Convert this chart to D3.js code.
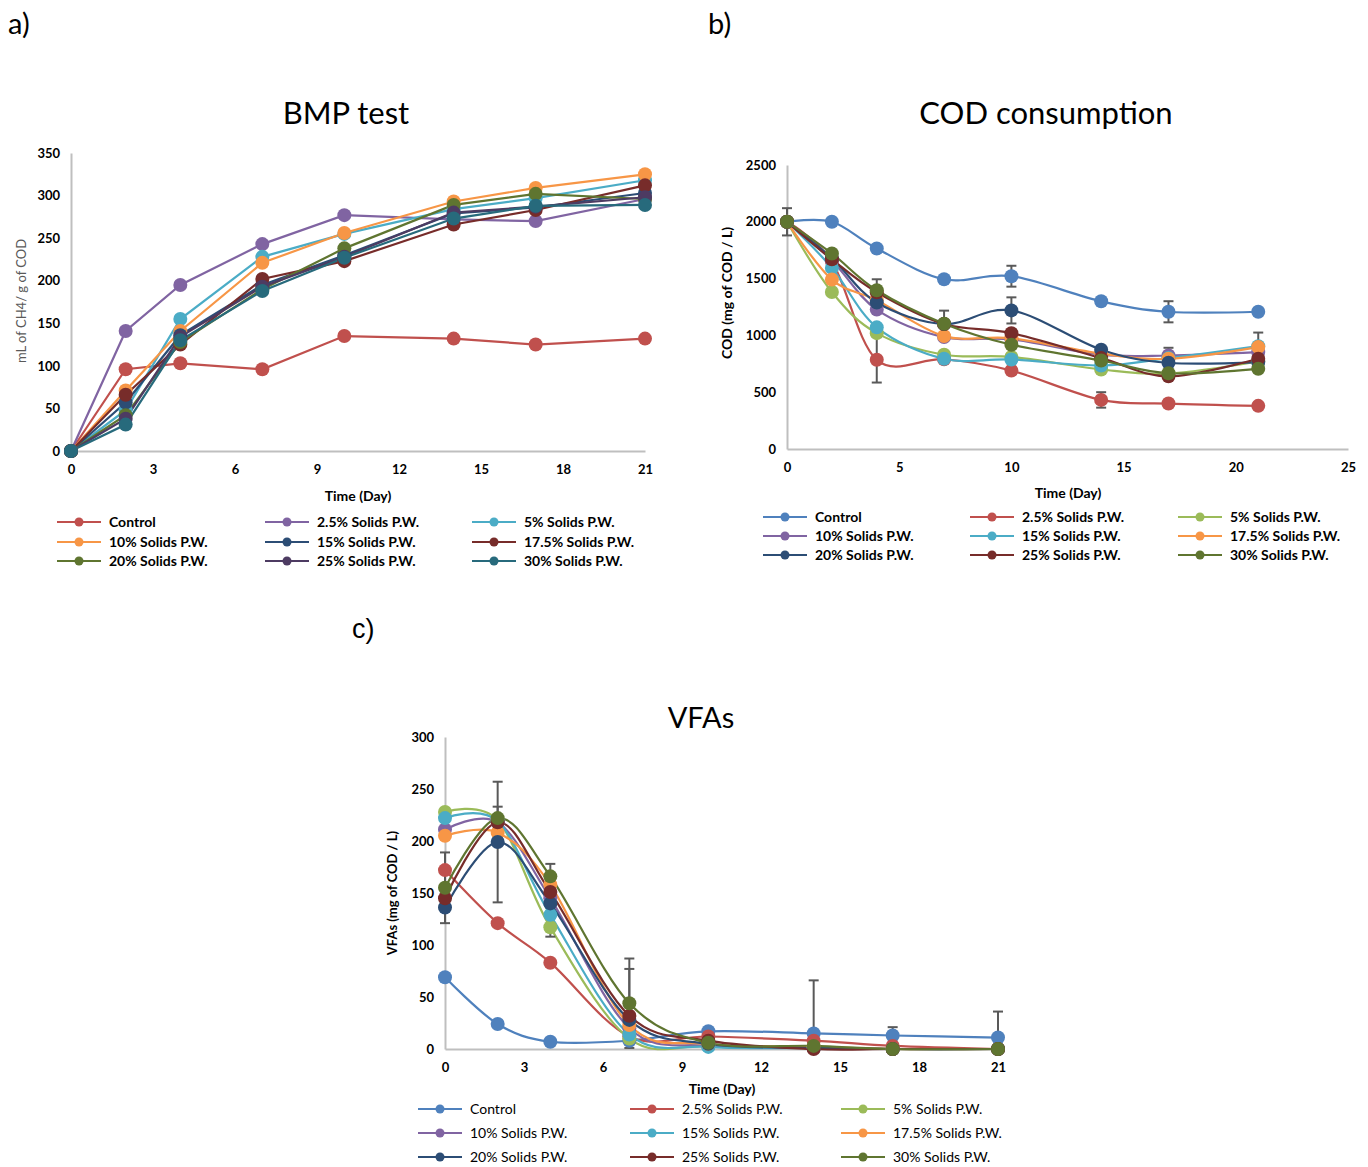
<!DOCTYPE html>
<html><head><meta charset="utf-8">
<script src="https://cdn.jsdelivr.net/npm/d3@7"></script>
<style>body{margin:0;background:#fff}svg{display:block}</style>
</head><body>
<svg id="c" width="1368" height="1167"></svg>
<script>
const days = [0, 2, 4, 7, 10, 14, 17, 21];
const seriesNames = ["Control","2.5% Solids P.W.","5% Solids P.W.","10% Solids P.W.","15% Solids P.W.","17.5% Solids P.W.","20% Solids P.W.","25% Solids P.W.","30% Solids P.W."];

// a) BMP test
const bmpColors = ["#c0504d","#8064a2","#4bacc6","#f79646","#2c4d75","#772c2a","#5f7530","#4d3b62","#276a7c"];
const bmpValues = [
  [0, 96, 103, 96, 135, 132, 125, 132],
  [0, 141, 195, 243, 277, 272, 270, 296],
  [0, 48, 155, 228, 255, 284, 297, 318],
  [0, 71, 141, 221, 256, 293, 309, 325],
  [0, 57, 136, 195, 230, 279, 286, 303],
  [0, 66, 125, 202, 223, 266, 283, 312],
  [0, 42, 128, 190, 238, 289, 302, 296],
  [0, 38, 134, 193, 228, 280, 287, 298],
  [0, 31, 130, 188, 227, 273, 288, 289]
];
const bmpYTicks = [0, 50, 100, 150, 200, 250, 300, 350];
const bmpXTicks = [0, 3, 6, 9, 12, 15, 18, 21];

// b) COD consumption
const codColors = ["#4f81bd","#c0504d","#9bbb59","#8064a2","#4bacc6","#f79646","#2c4d75","#772c2a","#5f7530"];
const codValues = [
  [2000, 2000, 1765, 1494, 1521, 1300, 1208, 1208],
  [2000, 1650, 785, 790, 690, 432, 400, 380],
  [2000, 1382, 1020, 830, 810, 700, 664, 770],
  [2000, 1660, 1227, 985, 965, 830, 823, 853],
  [2000, 1594, 1071, 794, 788, 735, 800, 905],
  [2000, 1491, 1310, 994, 975, 840, 794, 897],
  [2000, 1680, 1289, 1100, 1220, 874, 759, 765],
  [2000, 1670, 1380, 1100, 1020, 800, 640, 794],
  [2000, 1721, 1397, 1103, 918, 779, 667, 706]
];
const codYTicks = [0, 500, 1000, 1500, 2000, 2500];
const codXTicks = [0, 5, 10, 15, 20, 25];
// error bars: [series, day index, error]
const codErrors = [[0,0,120],[1,2,200],[8,2,97],[8,3,115],[0,4,92],[6,4,115],[1,5,68],[0,6,93],[3,6,68],[5,7,128]];

// c) VFAs
const vfaColors = codColors;
const vfaValues = [
  [69, 24, 7, 8, 17, 15, 13, 11],
  [172, 121, 83, 12, 12, 8, 3, 0],
  [228, 220, 117, 10, 3, 2, 0, 0],
  [211, 218, 145, 20, 3, 1, 0, 0],
  [222, 219, 129, 14, 2, 1, 0, 0],
  [205, 208, 158, 23, 5, 2, 0, 0],
  [136, 199, 140, 28, 5, 1, 0, 0],
  [145, 218, 151, 32, 8, 0, 0, 0],
  [155, 222, 166, 44, 6, 3, 0, 0]
];
const vfaYTicks = [0, 50, 100, 150, 200, 250, 300];
const vfaXTicks = [0, 3, 6, 9, 12, 15, 18, 21];
const vfaErrors = [[8,0,34],[6,1,58],[8,1,11],[8,2,12],[2,2,9],[8,3,43],[7,3,45],[0,5,51],[0,6,8],[0,7,25]];

const svg = d3.select("#c");
const FONT = "Lato, 'Open Sans', sans-serif";

function panel(o) {
  const g = svg.append("g");
  const x = d3.scaleLinear().domain(o.xDomain).range([o.x0, o.x1]);
  const y = d3.scaleLinear().domain(o.yDomain).range([o.y0, o.y1]);
  g.append("text").attr("x", o.titleX).attr("y", o.titleY).attr("text-anchor","middle")
    .attr("font-family", FONT).attr("font-size", o.titleSize).attr("fill","#000").text(o.title);
  const ya = g.append("g").attr("transform", `translate(${o.x0},0)`)
    .call(d3.axisLeft(y).tickValues(o.yTicks).tickSize(0).tickPadding(11).tickFormat(d3.format("d")));
  const xa = g.append("g").attr("transform", `translate(0,${o.y0})`)
    .call(d3.axisBottom(x).tickValues(o.xTicks).tickSize(0).tickPadding(14).tickFormat(d3.format("d")));
  [ya, xa].forEach(a => {
    a.select(".domain").attr("stroke","#bfbfbf").attr("stroke-width",2);
    a.selectAll("text").attr("font-family", FONT).attr("font-weight","bold").attr("font-size",13).attr("fill","#000");
  });
  g.append("text").attr("x", o.xLabelX).attr("y", o.xLabelY).attr("text-anchor","middle")
    .attr("font-family", FONT).attr("font-weight","bold").attr("font-size",14).text("Time (Day)");
  g.append("text").attr("transform", `translate(${o.yLabelX},${o.yLabelY}) rotate(-90)`).attr("text-anchor","middle")
    .attr("font-family", FONT).attr("font-weight", o.yLabelBold ? "bold" : "normal").attr("font-size", o.yLabelSize)
    .attr("fill", o.yLabelColor).text(o.yLabel);
  const line = d3.line().x((d,i) => x(days[i])).y(d => y(d)).curve(o.curve);
  o.values.forEach((vals, si) => {
    g.append("path").datum(vals).attr("d", line).attr("fill","none")
      .attr("stroke", o.colors[si]).attr("stroke-width", 2.2);
  });
  (o.errors || []).forEach(([si, di, e]) => {
    const cx = x(days[di]), v = o.values[si][di];
    const eg = g.append("g").attr("stroke","#595959").attr("stroke-width",2);
    const lo = Math.max(o.yDomain[0], v - e);
    eg.append("line").attr("x1",cx).attr("x2",cx).attr("y1",y(lo)).attr("y2",y(v+e));
    eg.append("line").attr("x1",cx-5).attr("x2",cx+5).attr("y1",y(v+e)).attr("y2",y(v+e));
    if (v - e >= o.yDomain[0]) eg.append("line").attr("x1",cx-5).attr("x2",cx+5).attr("y1",y(lo)).attr("y2",y(lo));
  });
  o.values.forEach((vals, si) => {
    g.append("g").selectAll("circle").data(vals).join("circle")
      .attr("cx",(d,i)=>x(days[i])).attr("cy",d=>y(d)).attr("r",7).attr("fill",o.colors[si]);
  });
  seriesNames.forEach((name, si) => {
    const col = si % 3, row = Math.floor(si / 3);
    const lx = o.legX[col], ly = o.legY[row];
    g.append("line").attr("x1",lx).attr("x2",lx+44).attr("y1",ly).attr("y2",ly)
      .attr("stroke",o.colors[si]).attr("stroke-width",2.2);
    g.append("circle").attr("cx",lx+22).attr("cy",ly).attr("r",4.5).attr("fill",o.colors[si]);
    g.append("text").attr("x",lx+52).attr("y",ly).attr("dy","0.35em")
      .attr("font-family", FONT).attr("font-weight", o.legBold ? "bold" : "normal").attr("font-size",14)
      .attr("fill","#000").text(name);
  });
}

panel({title:"BMP test", titleSize:31, titleX:346, titleY:124, xDomain:[0,21], yDomain:[0,350], x0:71, x1:645, y0:451, y1:153,
  yTicks:bmpYTicks, xTicks:bmpXTicks, values:bmpValues, colors:bmpColors, curve:d3.curveLinear,
  xLabelX:358, xLabelY:501, yLabel:"mL of CH4/ g of COD", yLabelX:26, yLabelY:301, yLabelBold:false, yLabelSize:13, yLabelColor:"#595959",
  legX:[57,265,472], legY:[522,542,561], legBold:true});

panel({title:"COD consumption", titleSize:31, titleX:1046, titleY:124, xDomain:[0,25], yDomain:[0,2500], x0:787, x1:1348, y0:449, y1:165,
  yTicks:codYTicks, xTicks:codXTicks, values:codValues, colors:codColors, curve:d3.curveCatmullRom.alpha(0), errors:codErrors,
  xLabelX:1068, xLabelY:498, yLabel:"COD (mg of COD / L)", yLabelX:732, yLabelY:293, yLabelBold:true, yLabelSize:14, yLabelColor:"#000",
  legX:[763,970,1178], legY:[517,536,555], legBold:true});

panel({title:"VFAs", titleSize:29, titleX:701, titleY:728, xDomain:[0,21], yDomain:[0,300], x0:445, x1:998, y0:1049, y1:737,
  yTicks:vfaYTicks, xTicks:vfaXTicks, values:vfaValues, colors:vfaColors, curve:d3.curveCatmullRom.alpha(0), errors:vfaErrors,
  xLabelX:722, xLabelY:1094, yLabel:"VFAs (mg of COD / L)", yLabelX:397, yLabelY:893, yLabelBold:true, yLabelSize:13, yLabelColor:"#000",
  legX:[418,630,841], legY:[1109,1133,1157], legBold:false});

svg.append("text").attr("x",8).attr("y",34).attr("font-family",FONT).attr("font-size",29).text("a)");
svg.append("text").attr("x",708).attr("y",34).attr("font-family",FONT).attr("font-size",29).text("b)");
svg.append("text").attr("x",352).attr("y",638).attr("font-family","'Liberation Sans', Arial, sans-serif").attr("font-size",27).text("c)");
</script>
</body></html>
